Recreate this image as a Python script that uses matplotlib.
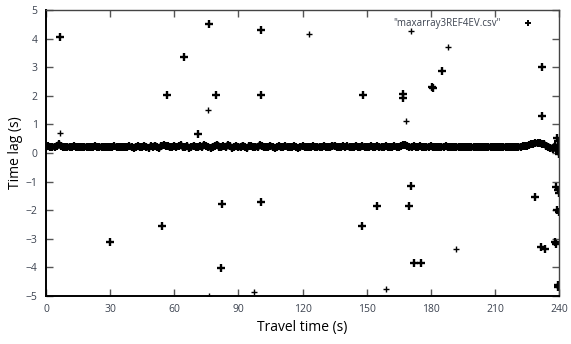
import numpy as np
import matplotlib
matplotlib.use("Agg")
import matplotlib.pyplot as plt
from matplotlib.lines import Line2D

# Time lag per second of travel (main cluster), 0..240 s
band_time = np.arange(0, 241, 1)
band_lag = [
    0.22, 0.23, 0.21, 0.22, 0.22, 0.24, 0.30, 0.25, 0.22, 0.21, 0.22, 0.21, 0.22, 0.23, 0.21, 0.22, 0.21, 0.22, 0.22, 0.21,
    0.22, 0.21, 0.22, 0.23, 0.22, 0.21, 0.22, 0.21, 0.20, 0.22, 0.21, 0.22, 0.23, 0.21, 0.22, 0.20, 0.22, 0.21, 0.22, 0.23,
    0.21, 0.19, 0.22, 0.24, 0.20, 0.22, 0.25, 0.21, 0.19, 0.23, 0.22, 0.26, 0.21, 0.19, 0.24, 0.28, 0.26, 0.23, 0.20, 0.22,
    0.25, 0.21, 0.24, 0.27, 0.22, 0.20, 0.23, 0.19, 0.22, 0.25, 0.21, 0.20, 0.23, 0.22, 0.28, 0.24, 0.21, 0.19, 0.22, 0.25,
    0.29, 0.22, 0.20, 0.24, 0.21, 0.27, 0.23, 0.19, 0.22, 0.25, 0.20, 0.22, 0.26, 0.21, 0.19, 0.23, 0.24, 0.20, 0.22, 0.21,
    0.27, 0.23, 0.20, 0.22, 0.21, 0.25, 0.22, 0.19, 0.21, 0.23, 0.20, 0.22, 0.24, 0.21, 0.20, 0.22, 0.23, 0.21, 0.19, 0.22,
    0.24, 0.21, 0.20, 0.22, 0.21, 0.23, 0.20, 0.22, 0.21, 0.20, 0.25, 0.21, 0.22, 0.20, 0.26, 0.23, 0.21, 0.20, 0.22, 0.24,
    0.21, 0.23, 0.20, 0.22, 0.21, 0.25, 0.22, 0.20, 0.24, 0.21, 0.22, 0.20, 0.23, 0.21, 0.22, 0.24, 0.20, 0.22, 0.21, 0.23,
    0.21, 0.20, 0.22, 0.24, 0.21, 0.22, 0.25, 0.27, 0.29, 0.24, 0.22, 0.20, 0.23, 0.21, 0.22, 0.24, 0.21, 0.20, 0.22, 0.21,
    0.23, 0.20, 0.22, 0.21, 0.20, 0.22, 0.21, 0.23, 0.20, 0.22, 0.21, 0.20, 0.22, 0.21, 0.20, 0.21, 0.22, 0.20, 0.21, 0.20,
    0.21, 0.22, 0.20, 0.21, 0.20, 0.21, 0.20, 0.21, 0.22, 0.20, 0.21, 0.20, 0.21, 0.20, 0.21, 0.22, 0.20, 0.21, 0.20, 0.21,
    0.21, 0.22, 0.22, 0.23, 0.24, 0.26, 0.28, 0.30, 0.32, 0.34, 0.35, 0.34, 0.33, 0.30, 0.26, 0.22, 0.18, 0.15, 0.24, 0.12, 0.08,
]

# Outliers made of several overlapping samples
out_time = [6.5, 56.5, 64.4, 71.3, 76.3, 79.4, 100.4, 100.4, 148.2, 167.2, 167.2,
            180.7, 181.0, 185.4, 231.9, 231.9, 29.9, 54.3, 82.2, 100.4, 81.7,
            148.0, 154.7, 170.8, 170.0, 172.2, 175.3, 228.8, 231.4, 233.3,
            239.4, 239.8, 238.7, 238.9, 239.8, 238.1, 238.4, 239.7, 239.7,
            238.9, 239.5, 239.8, 240.0]
out_lag = [4.05, 2.04, 3.37, 0.66, 4.51, 2.04, 4.29, 2.04, 2.04, 2.05, 1.92,
           2.31, 2.28, 2.88, 3.02, 1.29, -3.10, -2.55, -1.77, -1.72, -4.02,
           -2.56, -1.85, -1.14, -1.85, -3.86, -3.83, -1.53, -3.28, -3.37,
           -1.29, -1.40, -1.20, -1.99, -2.05, -3.10, -3.17, -4.62, -4.70,
           0.51, 0.42, 0.02, -0.05]

# Isolated single samples
single_time = [6.5, 75.9, 123.2, 170.8, 187.9, 168.4, 76.1, 97.3, 159.1, 191.8]
single_lag = [0.69, 1.49, 4.15, 4.27, 3.72, 1.13, -5.0, -4.85, -4.77, -3.37]

x_ticks = [0, 30, 60, 90, 120, 150, 180, 210, 240]
y_ticks = [-5, -4, -3, -2, -1, 0, 1, 2, 3, 4, 5]

plt.rcParams['font.family'] = ['Open Sans', 'DejaVu Sans']

fig = plt.figure(figsize=(5.71, 3.44), dpi=100)
ax = fig.add_axes([0.0806, 0.1395, 0.8984, 0.8315])

mk = dict(marker='+', color='black')
# dense cluster: overlapping samples read as a thick band
ax.plot(band_time, band_lag, linestyle='-', linewidth=4.6, solid_joinstyle='round',
        solid_capstyle='butt', markersize=6, markeredgewidth=1.6, **mk)
ax.plot(out_time, out_lag, linestyle='none', markersize=5.2, markeredgewidth=1.7, **mk)
ax.plot(single_time, single_lag, linestyle='none', markersize=4.8, markeredgewidth=1.0, **mk)

ax.set_xlim(0, 240)
ax.set_ylim(-5, 5)
ax.set_xticks(x_ticks)
ax.set_yticks(y_ticks)
ax.tick_params(direction='in', length=5, width=1, top=True, right=True,
               labelsize=7.5, labelcolor='#3c4350', color='#555555', pad=6)

for side in ['left', 'bottom']:
    ax.spines[side].set_linewidth(1.4)
    ax.spines[side].set_color('black')
for side in ['top', 'right']:
    ax.spines[side].set_linewidth(1.0)
    ax.spines[side].set_color('#444444')

ax.set_xlabel('Travel time (s)', fontsize=10, labelpad=3)
ax.set_ylabel('Time lag (s)', fontsize=10, labelpad=2)

# legend: sample point only, after the text
handle = Line2D([], [], linestyle='none', marker='+', color='black',
                markersize=5, markeredgewidth=1.4)
leg = ax.legend([handle], ['"maxarray3REF4EV.csv"'], loc='upper right',
                bbox_to_anchor=(0.958, 0.985), frameon=False,
                markerfirst=False, fontsize=7, handlelength=1.2, handletextpad=2.2,
                borderaxespad=0)
for t in leg.get_texts():
    t.set_color('#3c4350')

fig.savefig('out.png', dpi=100)
